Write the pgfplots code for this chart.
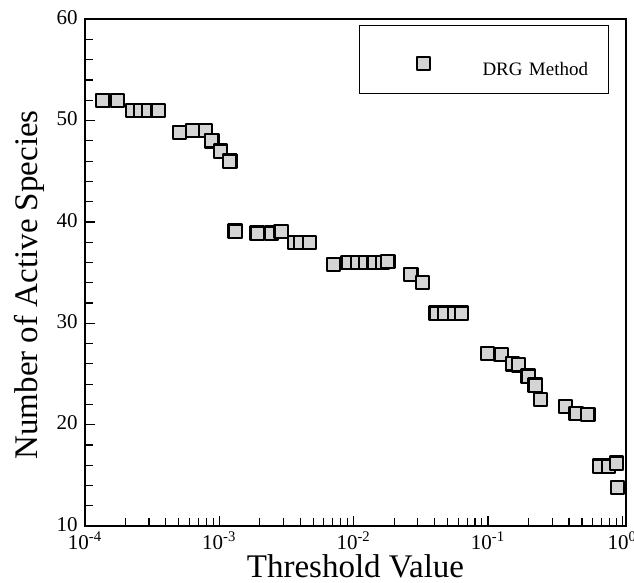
\documentclass[border=0pt]{standalone}
\usepackage{fontspec}
\setmainfont{Liberation Serif}
\usepackage{pgfplots}
\pgfplotsset{compat=1.18}

\begin{document}
\begin{tikzpicture}
\begin{axis}[
  at={(0,0)}, anchor=south west,
  scale only axis, width=270.5pt, height=253.35pt,
  xmode=log, xmin=1e-4, xmax=1.064, ymin=10, ymax=60,
  xtick={1e-4,1e-3,1e-2,1e-1,1},
  xticklabels={10\textsuperscript{-4},10\textsuperscript{-3},10\textsuperscript{-2},10\textsuperscript{-1},10\textsuperscript{0}},
  minor xtick={2e-4,3e-4,4e-4,5e-4,6e-4,7e-4,8e-4,9e-4,
               2e-3,3e-3,4e-3,5e-3,6e-3,7e-3,8e-3,9e-3,
               2e-2,3e-2,4e-2,5e-2,6e-2,7e-2,8e-2,9e-2,
               0.2,0.3,0.4,0.5,0.6,0.7,0.8,0.9},
  ytick={10,20,30,40,50,60}, minor y tick num=4,
  tick align=inside, xtick pos=bottom, ytick pos=left,
  major tick length=5pt, minor tick length=4pt,
  tick style={black, line width=0.6pt},
  axis line style={black, line width=0.8pt},
  tick label style={font=\fontsize{10.5}{12}\selectfont},
  x tick label style={inner sep=0.5pt, yshift=-2pt},
  y tick label style={inner sep=0.5pt, xshift=-3pt, yshift=0.8pt},
  /pgf/number format/assume math mode=true,
  xlabel={Threshold Value}, ylabel={Number of Active Species},
  every axis x label/.style={at={(axis description cs:0.5,-0.1015)}, anchor=base,
    inner sep=0pt, font=\fontsize{16.5}{19}\selectfont},
  every axis y label/.style={at={(axis description cs:-0.102,0.476)}, anchor=center, rotate=90,
    inner sep=0pt, font=\fontsize{16.5}{19}\selectfont},
  legend style={at={(axis description cs:0.5065,0.9888)}, anchor=north west,
    draw=black, line width=0.5pt, inner sep=0pt, column sep=0pt,
    font=\fontsize{9.5}{11}\selectfont,
    nodes={inner sep=0pt, text depth=0pt, text width=63pt, align=left}},
  legend image code/.code={\path[draw=none] (-32pt,-12.5pt) rectangle (29.5pt,21.5pt);
    \draw[#1] plot coordinates {(0pt,2.5pt)};},
]
\addplot[only marks, mark=square*, mark size=3.3pt,
  mark options={fill=black!17, draw=black, line width=1.1pt, line join=round}]
coordinates {
(1.36e-4,52) (1.75e-4,52)
(2.25e-4,51) (2.6e-4,51) (2.96e-4,51) (3.5e-4,51)
(5.05e-4,48.8) (6.3e-4,49) (7.9e-4,49) (8.8e-4,48) (1.02e-3,47) (1.2e-3,46)
(1.31e-3,39.1) (1.91e-3,38.9) (2.45e-3,38.9) (2.88e-3,39.05)
(3.65e-3,38) (4.03e-3,38) (4.67e-3,38)
(7.1e-3,35.8) (9.1e-3,36) (1.07e-2,36) (1.23e-2,36) (1.42e-2,36) (1.64e-2,36) (1.8e-2,36.1)
(2.67e-2,34.8) (3.24e-2,34)
(4.11e-2,31) (4.75e-2,31) (5.63e-2,31) (6.35e-2,31)
(0.099,27) (0.125,26.9) (0.152,26) (0.168,25.9)
(0.199,24.8) (0.224,23.9) (0.245,22.5)
(0.377,21.8) (0.452,21.1) (0.553,21)
(0.676,15.9) (0.788,15.9) (0.904,16.2) (0.92,13.8)
};
\addlegendentry{DRG Method}
\end{axis}
\pgfresetboundingbox
\useasboundingbox (-42.5pt,-28.5pt) rectangle (274.5pt,263pt);
\end{tikzpicture}
\end{document}
